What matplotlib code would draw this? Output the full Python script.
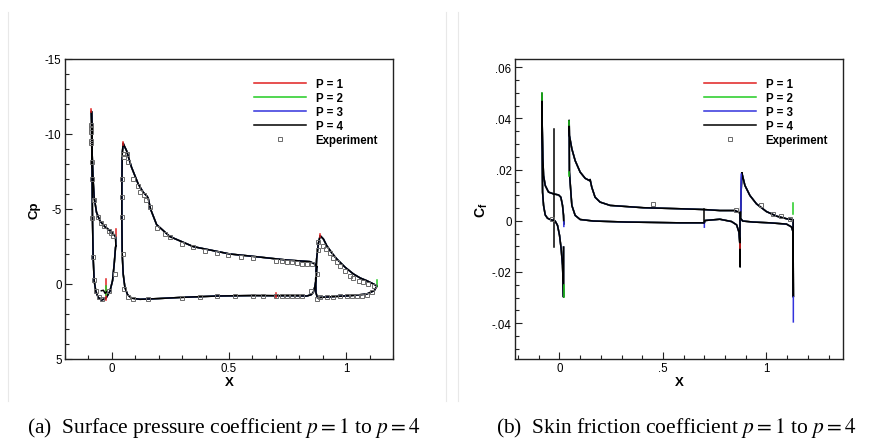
import numpy as np
import matplotlib
matplotlib.use("Agg")
import matplotlib.pyplot as plt
from matplotlib.lines import Line2D
from matplotlib.ticker import MultipleLocator, FuncFormatter

nan = np.nan

# ---------------- (a) Surface pressure coefficient ----------------
# slat loop (TE lower -> LE -> TE upper)
slat_x = [0.017, 0.0157, 0.010, 0.0029, -0.0085, -0.0256, -0.0442, -0.0584, -0.0684, -0.0755,
          -0.0798, -0.0826, -0.084, -0.0862, -0.0869,
          -0.0855, -0.0840, -0.0798, -0.0755, -0.0655, -0.0513, -0.0299, -0.0085, 0.0085, 0.016, 0.017]
slat_cp = [-2.55, -2.44, -1.33, -0.22, 0.49, 0.96, 1.07, 0.89, 0.49, -0.22,
           -1.78, -4.22, -6.44, -9.78, -11.51,
           -10.44, -8.67, -6.89, -5.78, -4.78, -4.22, -3.82, -3.56, -3.29, -3.15, -2.55]
cove_x = [-0.045, -0.036, -0.029, -0.021]
cove_cp = [0.45, 0.42, 0.62, 0.50]

# main element loop
main_x = [0.875, 0.872, 0.866, 0.860, 0.850, 0.832, 0.775, 0.700, 0.600, 0.450, 0.300, 0.200,
          0.155, 0.120, 0.084, 0.067, 0.0556, 0.0484, 0.0442, 0.0427, 0.0427, 0.0442, 0.0485,
          0.0527, 0.0627, 0.084, 0.1125, 0.134, 0.148, 0.155, 0.165, 0.191, 0.248, 0.348,
          0.504, 0.604, 0.746, 0.846, 0.8675, 0.875]
main_cp = [-1.15, -0.33, 0.20, 0.56, 0.72, 0.80, 0.78, 0.78, 0.77, 0.80, 0.89, 0.97,
           1.00, 1.02, 0.94, 0.71, 0.22, -0.67, -2.00, -4.22, -6.44, -8.67, -9.38,
           -9.22, -8.89, -7.78, -6.67, -6.11, -5.89, -5.73, -5.00, -3.96, -3.16, -2.49,
           -2.00, -1.84, -1.60, -1.49, -1.33, -1.15]

# flap loop
flap_x = [1.131, 1.120, 1.088, 1.017, 0.946, 0.896, 0.877, 0.871, 0.870, 0.874, 0.881, 0.889,
          0.903, 0.917, 0.939, 0.960, 0.996, 1.031, 1.060, 1.088, 1.131]
flap_cp = [0.16, 0.44, 0.67, 0.78, 0.84, 0.89, 0.91, 0.56, -0.33, -1.67, -2.67, -3.22,
           -3.00, -2.56, -2.07, -1.67, -1.11, -0.67, -0.40, -0.22, 0.11]

# differences of lower orders (short spikes)
p1_spike_x = [-0.0869, -0.0869, nan, 0.017, 0.017, nan, -0.027, -0.027, nan, 0.70, 0.70, nan,
              0.0485, 0.0485, nan, 0.889, 0.889]
p1_spike_cp = [-11.45, -11.65, nan, -3.2, -3.7, nan, -0.33, 1.07, nan, 0.6, 0.95, nan,
               -9.3, -9.5, nan, -3.15, -3.32]
p2_spike_x = [-0.027, -0.027, nan, 1.131, 1.131]
p2_spike_cp = [0.10, 0.70, nan, -0.25, 0.10]

# experiment
exp_x = [-0.087, -0.087, -0.087, -0.087, -0.087, -0.083, -0.084, -0.076, -0.084, -0.061, -0.048,
         -0.033, -0.014, -0.004, 0.006, -0.080, -0.076, -0.068, -0.054, -0.040, -0.013, 0.013,
         0.0456, 0.0513, 0.0627, 0.0698, 0.0912, 0.1097, 0.1197, 0.1382, 0.1453, 0.1624, 0.191,
         0.2265, 0.248, 0.298, 0.348, 0.397, 0.447, 0.497, 0.550, 0.601, 0.701, 0.725, 0.746,
         0.768, 0.789, 0.810, 0.832, 0.853,
         0.0427, 0.0427, 0.0427, 0.0484, 0.0527, 0.0698, 0.0883, 0.155, 0.298, 0.376, 0.447,
         0.526, 0.601, 0.647, 0.700, 0.725, 0.746, 0.768, 0.789, 0.810, 0.849,
         0.879, 0.879, 0.903, 0.9145, 0.9316, 0.946, 0.960, 0.9743, 0.9957, 1.017, 1.031, 1.053,
         1.074, 1.095, 1.117,
         0.8746, 0.8746, 0.889, 0.917, 0.946, 0.974, 1.003, 1.024, 1.046, 1.067, 1.088, 1.110]
exp_cp = [-10.62, -10.40, -10.11, -9.51, -9.38, -8.11, -7.00, -5.60, -4.38, -4.49, -4.04,
          -3.89, -3.56, -3.42, -3.22, -1.82, -0.27, 0.49, 0.84, 1.00, 0.49, -0.67,
          -8.67, -8.44, -8.67, -8.11, -7.00, -6.56, -6.11, -5.96, -5.60, -5.11, -3.73,
          -3.33, -3.16, -2.67, -2.44, -2.22, -2.04, -1.93, -1.80, -1.71, -1.56, -1.56, -1.49,
          -1.44, -1.40, -1.36, -1.33, -1.33,
          -7.00, -5.78, -4.44, -2.00, 0.33, 0.84, 1.00, 1.00, 0.91, 0.87, 0.80,
          0.78, 0.78, 0.78, 0.78, 0.78, 0.78, 0.78, 0.78, 0.78, 0.44,
          -2.29, -2.78, -2.56, -2.33, -2.07, -1.76, -1.49, -1.22, -0.87, -0.56, -0.38, -0.22,
          -0.11, 0.00, 0.11,
          -0.67, 1.00, 0.89, 0.89, 0.89, 0.82, 0.78, 0.78, 0.78, 0.78, 0.71, 0.56]

# ---------------- (b) Skin friction coefficient ----------------
slatf_x = [0.0197, 0.0195, 0.0178, 0.0146, 0.008, 0.0002, -0.0095, -0.021, -0.032, -0.045,
           -0.058, -0.069, -0.077, -0.0818, -0.0834, -0.085,
           -0.0834, -0.0802, -0.077, -0.069, -0.053, -0.0288, -0.0046, 0.0066, 0.0146, 0.0195, 0.021]
slatf_cf = [-0.0103, -0.0298, -0.0252, -0.0174, -0.0109, -0.0057, -0.0018, -0.0001, 0.0002, 0.0005,
            0.0010, 0.0023, 0.0060, 0.0112, 0.0250, 0.0498,
            0.0372, 0.0242, 0.0177, 0.0138, 0.0112, 0.0105, 0.0101, 0.0092, 0.0060, 0.0021, -0.0012]
slat_spike_x = [-0.028, -0.028]
slat_spike_cf = [0.0359, -0.0103]

mainf_x = [0.0468, 0.048, 0.0597, 0.0757, 0.0999, 0.124, 0.1449, 0.148, 0.156, 0.172, 0.196,
           0.2446, 0.405, 0.582, 0.695, 0.775, 0.8475, 0.864, 0.872, 0.873,
           0.872, 0.867, 0.856, 0.8315, 0.775, 0.703, 0.700, 0.695, 0.582, 0.325, 0.164,
           0.0999, 0.0757, 0.0597, 0.0549, 0.048, 0.0468]
mainf_cf = [0.0391, 0.0333, 0.0281, 0.0235, 0.0190, 0.0166, 0.0157, 0.0161, 0.0131, 0.0092, 0.0073,
            0.0060, 0.0051, 0.0047, 0.0044, 0.0040, 0.0040, 0.0034, 0.0030, -0.0180,
            -0.0096, -0.0044, -0.0016, -0.0003, 0.0006, 0.0001, -0.0008, -0.0008, -0.0008, -0.0005, -0.0001,
            0.0005, 0.0021, 0.0060, 0.0112, 0.0190, 0.0391]
main_spike_x = [0.700, 0.700]
main_spike_cf = [0.0046, -0.0008]

flapf_x = [0.8813, 0.896, 0.920, 0.952, 1.000, 1.049, 1.097, 1.129, 1.130, 1.129, 1.121,
           1.097, 1.016, 0.936, 0.885, 0.875, 0.8765, 0.8813]
flapf_cf = [0.0187, 0.0138, 0.0099, 0.0066, 0.0036, 0.0018, 0.0008, 0.0004, -0.0298, -0.0044, -0.0024,
            -0.0013, -0.0008, -0.0005, -0.0001, 0.0010, 0.0086, 0.0187]

p1f_spike_x = [0.873, 0.873]
p1f_spike_cf = [-0.0090, -0.0106]
p2f_spike_x = [-0.085, -0.085, nan, 0.0195, 0.0195, nan, 0.0468, 0.0468, nan, 0.048, 0.048, nan, 1.130, 1.130]
p2f_spike_cf = [0.0498, 0.0470, nan, -0.0250, -0.0298, nan, 0.0391, 0.0375, nan, 0.0190, 0.0175, nan, 0.0027, 0.0070]
p3f_spike_x = [0.021, 0.021, nan, 0.700, 0.700, nan, 0.878, 0.8765, nan, 1.130, 1.130]
p3f_spike_cf = [-0.0005, -0.0022, nan, -0.0008, -0.0025, nan, 0.0182, 0.0040, nan, -0.0298, -0.0395]

expf_x = [-0.037, 0.4504, 0.8508, 0.976, 1.0325, 1.0727, 1.113]
expf_cf = [0.0006, 0.0066, 0.0044, 0.0062, 0.0027, 0.0018, 0.0008]

legend_labels = ["P = 1", "P = 2", "P = 3", "P = 4", "Experiment"]
series_colors = ["#e02020", "#22cc22", "#3333dd", "#000000"]
exp_color = "#6a6a6a"

# ---------------- figure ----------------
plt.rcParams["font.family"] = ["Liberation Sans", "DejaVu Sans"]
plt.rcParams["mathtext.fontset"] = "custom"
plt.rcParams["mathtext.rm"] = "Liberation Sans"
plt.rcParams["mathtext.bf"] = "Liberation Sans:bold"
plt.rcParams["mathtext.it"] = "Liberation Sans:italic"

fig = plt.figure(figsize=(8.83, 4.39), dpi=100)
W, H = 883, 439

def px_axes(l, t, r, b):
    return fig.add_axes([l / W, 1 - b / H, (r - l) / W, (b - t) / H])

axA = px_axes(65, 60, 393, 360)
axB = px_axes(515, 60, 843, 360)

LW = 1.1

def draw_curves(ax, curves, spikes_by_series):
    for i, col in enumerate(series_colors):
        for (xs, ys) in curves:
            ax.plot(xs, ys, color=col, lw=LW, solid_joinstyle="round")
    for i, col in enumerate(series_colors):
        for (xs, ys) in spikes_by_series[i]:
            ax.plot(xs, ys, color=col, lw=LW)

# (a)
curves_a = [(slat_x, slat_cp), (main_x, main_cp), (flap_x, flap_cp)]
spikes_a = [[(p1_spike_x, p1_spike_cp)], [(p2_spike_x, p2_spike_cp)], [], [(cove_x, cove_cp)]]
draw_curves(axA, curves_a, spikes_a)
axA.plot(exp_x, exp_cp, ls="none", marker="s", ms=3.2, mfc="none", mec=exp_color, mew=0.7)

# (b)
curves_b = [(slatf_x, slatf_cf), (mainf_x, mainf_cf), (flapf_x, flapf_cf)]
spikes_b = [[(p1f_spike_x, p1f_spike_cf)], [(p2f_spike_x, p2f_spike_cf)], [(p3f_spike_x, p3f_spike_cf)],
            [(slat_spike_x, slat_spike_cf), (main_spike_x, main_spike_cf)]]
draw_curves(axB, curves_b, spikes_b)
axB.plot(expf_x, expf_cf, ls="none", marker="s", ms=3.2, mfc="none", mec=exp_color, mew=0.7)

axA.set_xlim(-0.2, 1.2)
axA.set_ylim(5, -15)
axA.xaxis.set_major_locator(MultipleLocator(0.5))
axA.xaxis.set_minor_locator(MultipleLocator(0.1))
axA.yaxis.set_major_locator(MultipleLocator(5))
axA.yaxis.set_minor_locator(MultipleLocator(1))
axA.xaxis.set_major_formatter(FuncFormatter(lambda v, p: "0" if abs(v) < 1e-9 else ("1" if abs(v - 1) < 1e-9 else f"{v:g}")))
axA.yaxis.set_major_formatter(FuncFormatter(lambda v, p: f"{v:.0f}"))

def strip0(v, p):
    if abs(v) < 1e-12:
        return "0"
    s = f"{v:g}"
    s = s.replace("0.", ".")
    return s

axB.set_xlim(-0.215, 1.37)
axB.set_ylim(-0.054, 0.0632)
axB.xaxis.set_major_locator(MultipleLocator(0.5))
axB.xaxis.set_minor_locator(MultipleLocator(0.1))
axB.yaxis.set_major_locator(MultipleLocator(0.02))
axB.yaxis.set_minor_locator(MultipleLocator(0.005))
axB.xaxis.set_major_formatter(FuncFormatter(strip0))
axB.yaxis.set_major_formatter(FuncFormatter(strip0))

for ax in (axA, axB):
    for s in ax.spines.values():
        s.set_linewidth(1.0)
        s.set_color("#222222")
    ax.tick_params(which="both", direction="in", top=False, right=False, width=0.8,
                   labelsize=8.3, pad=2.5, color="#222222")
    ax.tick_params(which="major", length=5)
    ax.tick_params(which="minor", length=3)
    ax.set_xlabel("X", fontsize=9.5, fontweight="bold", labelpad=1.0)
    handles = [Line2D([], [], color=c, lw=LW) for c in series_colors]
    handles.append(Line2D([], [], ls="none", marker="s", ms=3.2, mfc="none", mec=exp_color, mew=0.7))
    ax.legend(handles, legend_labels, loc="upper left", bbox_to_anchor=(0.576, 0.937),
              frameon=False, borderpad=0, borderaxespad=0, handlelength=4.5, handletextpad=0.85,
              labelspacing=0.17, prop={"weight": "bold", "size": 8.3})

axA.set_ylabel("Cp", fontsize=9.5, fontweight="bold", labelpad=3)
axB.set_ylabel(r"$\mathbf{C_f}$", fontsize=10, labelpad=1)

# light divider lines
for xp in (8, 446, 458):
    fig.add_artist(Line2D([xp / W, xp / W], [1 - 13 / H, 1 - 402 / H], color="#e8e8e8", lw=0.8))

fig.text(223.5 / W, 1 - 428 / H, r"(a)  Surface pressure coefficient $p = 1$ to $p = 4$",
         family="Liberation Serif", math_fontfamily="stix", fontsize=15.5, ha="center", va="center")
fig.text(676.5 / W, 1 - 428 / H, r"(b)  Skin friction coefficient $p = 1$ to $p = 4$",
         family="Liberation Serif", math_fontfamily="stix", fontsize=15.5, ha="center", va="center")

fig.savefig("out.png", dpi=100)
